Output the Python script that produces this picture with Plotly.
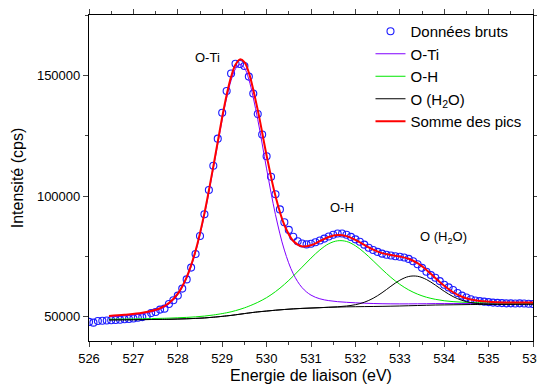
import plotly.graph_objects as go

# Raw data (binding energy in eV, intensity in cps)
data_e = [round(526.0 + 0.1 * i, 1) for i in range(101)]
data_i = [47900, 47600, 48300, 48400, 48500, 48600, 48700, 48800, 49000, 49100,
          49300, 49600, 49900, 50400, 51600, 52000, 53000, 53400, 55300, 56900,
          58800, 61700, 65500, 70400, 76000, 83500, 92500, 102500, 112600, 123800,
          134500, 143500, 150800, 154800, 154700, 153900, 149500, 142500, 134000, 125500,
          116500, 108000, 100800, 94500, 89200, 86000, 83200, 81300, 80400, 80000,
          80300, 80900, 81600, 82400, 83300, 84000, 84500, 84500, 84000, 83100,
          82100, 81100, 79900, 78600, 77700, 76900, 76200, 75700, 75400, 75100,
          74900, 74600, 74000, 73000, 71800, 70300, 68700, 67300, 66200, 64800,
          63300, 62200, 61100, 59900, 58800, 58000, 57300, 56800, 56500, 56300,
          56100, 55900, 55800, 55700, 55600, 55600, 55500, 55600, 55500, 55400,
          55300]

# Fit curves, read at these energies
fit_e = [526.45, 526.8, 527.2, 527.6, 527.8, 528.0, 528.2, 528.4, 528.6, 528.8,
         529.0, 529.1, 529.2, 529.3, 529.4, 529.5, 529.6, 529.8, 530.0, 530.2,
         530.4, 530.6, 530.8, 531.0, 531.2, 531.4, 531.6, 531.8, 532.0, 532.2,
         532.4, 532.6, 532.8, 533.0, 533.2, 533.4, 533.6, 533.8, 534.0, 534.2,
         534.4, 534.6, 534.8, 535.2, 535.6, 536.0]

background = [48750, 48800, 48850, 48950, 49000, 49100, 49200, 49350, 49550, 49850,
              50200, 50400, 50600, 50850, 51100, 51350, 51600, 52050, 52400, 52750,
              53050, 53300, 53500, 53650, 53800, 53950, 54050, 54150, 54200, 54250,
              54300, 54350, 54420, 54500, 54600, 54700, 54800, 54900, 54950, 55000,
              55050, 55100, 55120, 55170, 55230, 55300]

o_ti = [50130, 50550, 51310, 53140, 55240, 59130, 65900, 76730, 92170, 111420,
        131610, 140610, 147890, 152740, 154600, 153090, 148320, 131750, 111280, 92310,
        77650, 67850, 62090, 59000, 57470, 56720, 56290, 56020, 55810, 55650,
        55530, 55440, 55390, 55370, 55380, 55410, 55440, 55490, 55490, 55490,
        55510, 55520, 55510, 55510, 55530, 55560]

o_h = [49015, 49100, 49205, 49375, 49470, 49615, 49780, 50010, 50320, 50770,
       51350, 51700, 52090, 52575, 53115, 53720, 54405, 56000, 57960, 60440,
       63440, 66875, 70600, 74330, 77700, 80270, 81500, 81220, 79450, 76610,
       73210, 69670, 66360, 63470, 61160, 59400, 58130, 57270, 56670, 56300,
       56070, 55940, 55830, 55720, 55680, 55670]

o_h2o = [48750, 48800, 48850, 48950, 49000, 49100, 49200, 49350, 49550, 49850,
         50200, 50400, 50600, 50850, 51100, 51350, 51600, 52050, 52400, 52750,
         53050, 53300, 53500, 53650, 53800, 53990, 54174, 54493, 55037, 56043,
         57690, 59990, 62684, 65160, 66705, 66805, 65460, 63164, 60590, 58390,
         56843, 55937, 55463, 55205, 55230, 55300]

somme = [50395, 50852, 51666, 53565, 55708, 59646, 66483, 77392, 92938, 112342,
         132757, 141910, 149380, 154464, 156616, 155460, 151125, 135702, 116840, 100000,
         88040, 81425, 79190, 79680, 81370, 83079, 83864, 83433, 81897, 79803,
         77830, 76397, 75592, 74996, 74045, 72211, 69432, 66120, 62847, 60184,
         58319, 57195, 56566, 56092, 55975, 55936]

x_ticks = [526, 527, 528, 529, 530, 531, 532, 533, 534, 535, 536]
y_ticks = [50000, 100000, 150000]
y_tick_text = ["50000", "100000", "150000"]

FONT = "Arial, Liberation Sans, sans-serif"

fig = go.Figure()
fig.add_trace(go.Scatter(x=data_e, y=data_i, mode="markers", name="Données bruts",
                         marker=dict(symbol="circle-open", size=7, color="#1a1aff",
                                     line=dict(width=1.1, color="#1a1aff"))))
fig.add_trace(go.Scatter(x=fit_e, y=background, mode="lines", showlegend=False,
                         line=dict(color="black", width=1, shape="spline")))
fig.add_trace(go.Scatter(x=fit_e, y=o_ti, mode="lines", name="O-Ti",
                         line=dict(color="#8000ff", width=1, shape="spline")))
fig.add_trace(go.Scatter(x=fit_e, y=o_h, mode="lines", name="O-H",
                         line=dict(color="#00e600", width=1, shape="spline")))
fig.add_trace(go.Scatter(x=fit_e, y=o_h2o, mode="lines", name="O (H<sub>2</sub>O)",
                         line=dict(color="black", width=1, shape="spline")))
fig.add_trace(go.Scatter(x=fit_e, y=somme, mode="lines", name="Somme des pics",
                         line=dict(color="#ff0000", width=2, shape="spline")))

# The page body adds an 8 px offset; the figure is sized so the plot lands where the reference has it.
fig.update_layout(
    width=537, height=376,
    margin=dict(l=81, r=12, t=7, b=43),
    paper_bgcolor="white", plot_bgcolor="white",
    font=dict(family=FONT, size=13, color="black"),
    showlegend=True,
    legend=dict(x=0.634, y=1.0, xanchor="left", yanchor="top",
                bgcolor="rgba(0,0,0,0)", font=dict(size=15, family=FONT),
                tracegroupgap=0),
    annotations=[
        dict(x=528.66, y=157500, text="O-Ti", showarrow=False, font=dict(size=13, family=FONT)),
        dict(x=531.69, y=95300, text="O-H", showarrow=False, font=dict(size=13, family=FONT)),
        dict(x=533.98, y=82700, text="O (H<sub>2</sub>O)", showarrow=False, font=dict(size=13, family=FONT)),
    ],
)
fig.update_xaxes(range=[526, 536], tickvals=x_ticks, ticks="outside", ticklen=5,
                 showgrid=False, zeroline=False, showline=True, linecolor="black", linewidth=1.2,
                 mirror="ticks", tickfont=dict(size=13), automargin=False,
                 ticklabeloverflow="allow",
                 minor=dict(dtick=0.5, ticks="outside", ticklen=3, showgrid=False),
                 title=dict(text="Energie de liaison (eV)", font=dict(size=16), standoff=8))
fig.update_yaxes(range=[40000, 175000], tickvals=y_ticks, ticktext=y_tick_text,
                 ticks="outside", ticklen=5,
                 showgrid=False, zeroline=False, showline=True, linecolor="black", linewidth=1.2,
                 mirror="ticks", tickfont=dict(size=13), automargin=False,
                 minor=dict(dtick=25000, tick0=0, ticks="outside", ticklen=3, showgrid=False),
                 title=dict(text="Intensité (cps)", font=dict(size=16), standoff=9))

fig.write_html("out.html")
